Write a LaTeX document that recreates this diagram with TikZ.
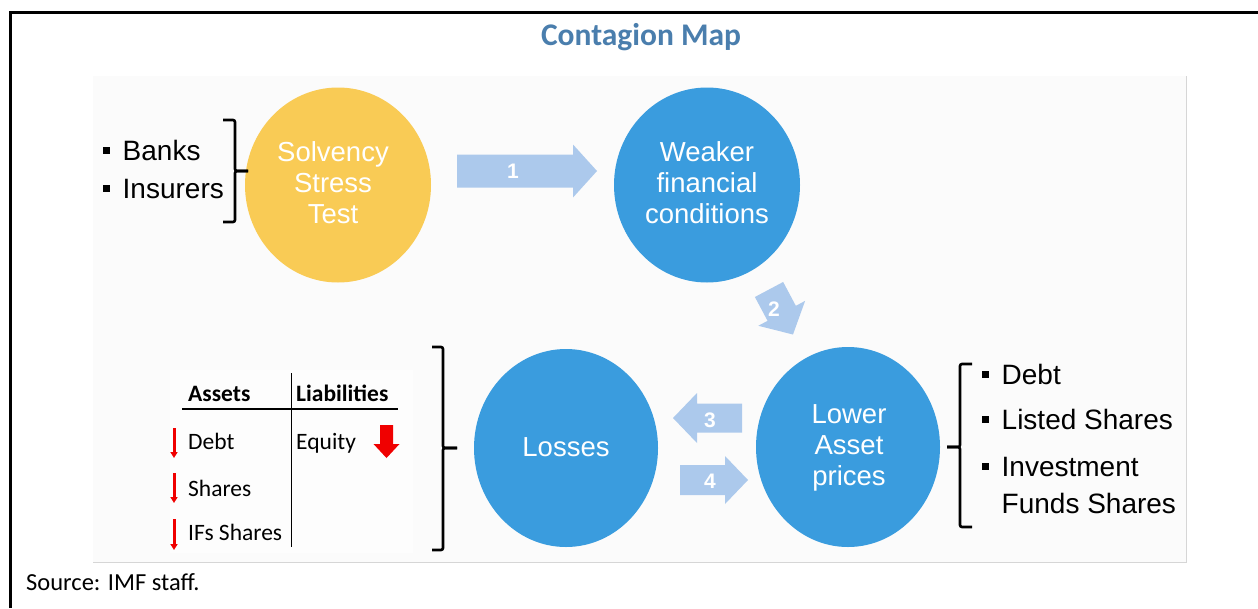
\documentclass[tikz,border=0pt]{standalone}
\usepackage{fontspec}
\setmainfont{Liberation Sans}
\newfontfamily\calfont{Carlito}
\usetikzlibrary{arrows.meta,shapes.geometric}
\definecolor{titleblue}{RGB}{74,126,173}
\definecolor{circblue}{RGB}{58,156,222}
\definecolor{circyellow}{RGB}{249,203,85}
\definecolor{arrowblue}{RGB}{172,201,236}
\definecolor{panelgray}{RGB}{251,251,251}
\definecolor{paneledge}{RGB}{214,214,214}
\definecolor{redarrow}{RGB}{240,0,0}
\newcommand\blockarrow[8]{%
  \begin{scope}[shift={(#2,#3)},rotate=#4]
    \fill[arrowblue] ({-#5/2},{-#6/2}) -- ({#5/2-#8},{-#6/2}) -- ({#5/2-#8},{-#7/2})
      -- ({#5/2},0) -- ({#5/2-#8},{#7/2}) -- ({#5/2-#8},{#6/2}) -- ({-#5/2},{#6/2}) -- cycle;
  \end{scope}%
  \node[arrowlabel] (#1) at (#2,#3) {};%
}
\newcommand\sqbul{\rule[6.5pt]{7pt}{7pt}\hspace{12.5pt}}
\begin{document}
\begin{tikzpicture}[x=1pt,y=-1pt,
  circ/.style={ellipse,inner sep=0pt},
  circtext/.style={text=white,align=center,font=\fontsize{27.5}{31}\selectfont},
  bullettext/.style={anchor=base west,inner sep=0pt,font=\fontsize{28}{32}\selectfont},
  arrowlabel/.style={inner sep=0pt},
  numtext/.style={text=white,font=\bfseries\fontsize{21}{24}\selectfont,inner sep=0pt},
  tabtext/.style={anchor=base west,inner sep=0pt,font=\calfont\fontsize{23.5}{28}\selectfont},
  brace/.style={line width=2.6pt,rounded corners=2pt},
  thinred/.style={redarrow,line width=3pt,-{Triangle[width=7pt,length=6pt]}}
]
\useasboundingbox (0,0) rectangle (1258,608);
\fill[white] (0,0) rectangle (1258,608);
% outer frame
\draw[line width=2.5pt] (10.5,608) -- (10.5,12.5) -- (1258,12.5);
% title
\node[text=titleblue,font=\calfont\bfseries\fontsize{31.5}{36}\selectfont] (title) at (641,37) {Contagion Map};
% panel
\fill[panelgray] (93,76) rectangle (1186,562);
\draw[paneledge,line width=1pt] (93,562) -- (1186,562) -- (1186,76);
\fill[white!60!panelgray] (170,370) rectangle (413,553);
% circles
\node[circ,fill=circyellow,minimum width=186,minimum height=195] (sst) at (338,185) {};
\node[circ,fill=circblue,minimum width=186,minimum height=195] (wfc) at (707,185) {};
\node[circ,fill=circblue,minimum width=184,minimum height=198] (los) at (566,448) {};
\node[circ,fill=circblue,minimum width=184,minimum height=200] (lap) at (848,447) {};
\node[circtext] (sstt) at (333,183) {Solvency\\Stress\\Test};
\node[circtext] (wfct) at (707,183) {Weaker\\financial\\conditions};
\node[circtext] (lost) at (566,447) {Losses};
\node[circtext] (lapt) at (849,448) {Lower\\Asset\\prices};
% block arrows
\blockarrow{ar1}{527}{171}{0}{140}{33}{53}{24}
\blockarrow{ar2}{781}{312}{-62}{51}{32}{53}{24}
\blockarrow{ar3}{707.5}{418}{180}{69}{29}{50}{24}
\blockarrow{ar4}{714}{480}{0}{68}{30}{48}{23}
\node[numtext] (n1) at (513,171) {1};
\node[numtext] (n2) at (774,309) {2};
\node[numtext] (n3) at (710,420) {3};
\node[numtext] (n4) at (710,481) {4};
% left bullets
\node[bullettext] (banks) at (103,160) {\sqbul Banks};
\node[bullettext] (insurers) at (103,198) {\sqbul Insurers};
\draw[brace] (223,120) -- (235,120) -- (235,171) -- (248,171);
\draw[brace] (248,171) -- (235,171) -- (235,222) -- (223,222);
% right bullets
\node[bullettext] (debt) at (982,384) {\sqbul Debt};
\node[bullettext] (listed) at (982,429) {\sqbul Listed Shares};
\node[bullettext] (invest) at (982,476) {\sqbul Investment};
\node[bullettext] (funds) at (1001.5,513) {Funds Shares};
\draw[brace] (972,364) -- (960,364) -- (960,447) -- (947,447);
\draw[brace] (947,447) -- (960,447) -- (960,527) -- (972,527);
% table bracket
\draw[brace] (432,347) -- (443,347) -- (443,448) -- (457,448);
\draw[brace] (457,448) -- (443,448) -- (443,550) -- (432,550);
% balance sheet table
\node[tabtext,font=\calfont\bfseries\fontsize{23.5}{28}\selectfont] (assets) at (188,401) {Assets};
\node[tabtext,font=\calfont\bfseries\fontsize{23.5}{28}\selectfont] (liab) at (296,401) {Liabilities};
\draw[line width=2pt] (182,409) -- (398,409);
\draw[line width=1pt] (291,373) -- (291,547);
\node[tabtext] (tdebt) at (188,449) {Debt};
\node[tabtext] (equity) at (296,449) {Equity};
\node[tabtext] (tshares) at (188,496) {Shares};
\node[tabtext] (ifs) at (188,540) {IFs Shares};
\draw[thinred] (174,428) -- (174,458);
\draw[thinred] (174,473) -- (174,503);
\draw[thinred] (174,519) -- (174,550);
\fill[redarrow] (380,425) -- (393,425) -- (393,444) -- (399.5,444) -- (386.5,458) -- (373.5,444) -- (380,444) -- cycle;
% source
\node[anchor=base west,inner sep=0pt,font=\calfont\fontsize{24.5}{28}\selectfont] (source) at (26,590) {Source: IMF staff.};
\end{tikzpicture}
\end{document}
